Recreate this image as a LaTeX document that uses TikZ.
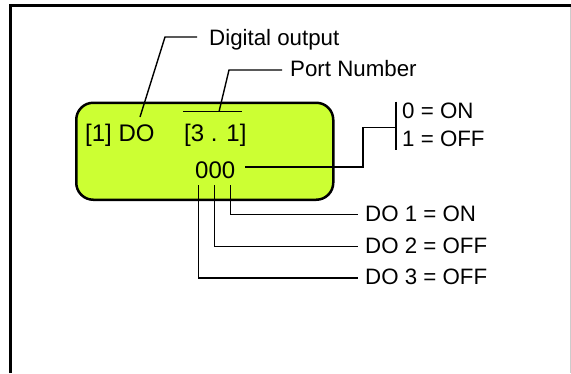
\documentclass[tikz,border=0pt]{standalone}
\usepackage{fontspec}
\setmainfont{Liberation Sans}
\definecolor{lcdgreen}{HTML}{CCFF33}
\begin{document}
\begin{tikzpicture}[x=1pt,y=-1pt,
  lbl/.style={anchor=base west,inner sep=0pt,font=\fontsize{22.3}{26}\selectfont},
  lcdtxt/.style={anchor=base west,inner sep=0pt,font=\fontsize{24}{28}\selectfont},
  lead/.style={line width=1.4pt},
  lcdbox/.style={draw,line width=2.5pt,fill=lcdgreen,rounded corners=17pt}]
\useasboundingbox (0,0) rectangle (571,373);
% frame
\draw[line width=2.7pt] (10.3,373) -- (10.3,5.3) -- (571,5.3);
\draw[line width=1pt,black!20] (570,7) -- (570,373);
% LCD
\node[lcdbox,minimum width=257pt,minimum height=97pt,anchor=north west] (lcd) at (75,101.5) {};
\node[lcdtxt] (ddo) at (85,141) {[1] DO};
\node[lcdtxt] (port) at (184,141) {[3 . 1]};
\node[lcdtxt] (bits) at (195,178) {000};
% labels
\node[lbl] (dig) at (209,45) {Digital output};
\node[lbl] (pnum) at (290,76.7) {Port Number};
\node[lbl] (on) at (402,118.3) {0 = ON};
\node[lbl] (off) at (402,146.7) {1 = OFF};
\node[lbl] (do1) at (365,221.7) {DO 1 = ON};
\node[lbl] (do2) at (365,253) {DO 2 = OFF};
\node[lbl] (do3) at (365,284.5) {DO 3 = OFF};
% coordinates
\coordinate (dgA) at (140,117);
\coordinate (dgB) at (165,37);
\coordinate (dgC) at (197,37);
\coordinate (ovL) at (183,111.7);
\coordinate (ovR) at (242,111.7);
\coordinate (pnA) at (219,111.7);
\coordinate (pnB) at (229,70);
\coordinate (pnC) at (282,70);
\coordinate (bA) at (245,167);
\coordinate (bB) at (363,167);
\coordinate (bC) at (363,127.7);
\coordinate (bD) at (396,127.7);
\coordinate (barT) at (396,101.7);
\coordinate (barB) at (396,150);
\coordinate (d3A) at (198.5,185);
\coordinate (d2A) at (214.5,185);
\coordinate (d1A) at (230.7,185);
\coordinate (d1E) at (358,214.3);
\coordinate (d2E) at (358,246.7);
\coordinate (d3E) at (358,278);
% leaders
\draw[lead] (dgA) -- (dgB) -- (dgC);
\draw[lead] (ovL) -- (ovR);
\draw[lead] (pnA) -- (pnB) -- (pnC);
\draw[lead] (bA) -- (bB) -- (bC) -- (bD);
\draw[lead] (barT) -- (barB);
\draw[lead] (d1A) |- (d1E);
\draw[lead] (d2A) |- (d2E);
\draw[lead] (d3A) |- (d3E);
\end{tikzpicture}
\end{document}
